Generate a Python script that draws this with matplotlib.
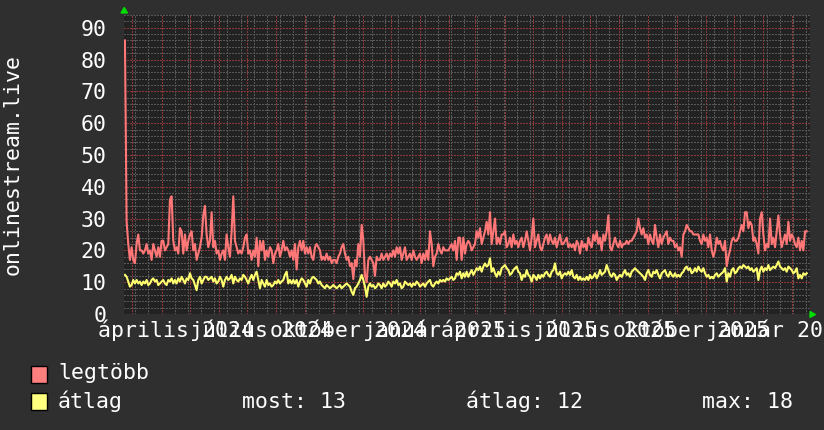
import pandas as pd
import matplotlib
matplotlib.use("Agg")
import matplotlib.pyplot as plt
import matplotlib.dates as mdates
from matplotlib.patches import Rectangle, Polygon

plt.rcParams['font.family'] = ['DejaVu Sans Mono']

# legtöbb (max listeners)
legtobb_first_year = [
    86, 29, 22, 17, 21, 17, 16, 22, 25, 20,
    20, 19, 20, 22, 19, 20, 17, 22, 20, 18,
    21, 18, 23, 23, 20, 21, 22, 36, 37, 23,
    20, 21, 19, 27, 26, 19, 25, 20, 23, 25,
    26, 20, 22, 17, 19, 21, 24, 31, 34, 25,
    21, 23, 32, 21, 23, 19, 20, 17, 19, 20,
    17, 25, 21, 18, 26, 37, 23, 21, 19, 20,
    19, 21, 24, 25, 19, 20, 17, 20, 18, 24,
    15, 23, 20, 23, 17, 20, 18, 21, 20, 16,
    19, 20, 22, 18, 20, 23, 20, 21, 20, 18,
    20, 17, 22, 14, 21, 23, 20, 23, 19, 21,
    19, 21, 18, 17, 21, 22, 21, 20, 17, 18,
    17, 19, 17, 18, 16, 17, 17, 16, 18, 19,
    21, 22, 19, 17, 18, 15, 16, 11, 17, 15,
    22, 18, 28, 23, 12, 10, 17, 18, 17, 16,
    12, 18, 17, 17, 19, 17, 18, 19, 17, 19,
    18, 20, 18, 21, 19, 21, 17, 19, 21, 17,
    18, 19, 17, 20, 18, 17, 18, 19, 16, 19,
    17, 20, 17, 26, 22, 15, 18, 19, 22, 20,
    19, 21, 20, 20, 20, 21, 22, 20, 23, 17,
    24, 24, 17, 24, 19, 22, 23,
]
legtobb_second_year = [
    22, 20, 21, 22, 26, 24, 27, 22, 24, 26,
    29, 25, 32, 22, 26, 30, 22, 24, 22, 25,
    25, 26, 21, 22, 24, 21, 25, 22, 23, 21,
    23, 24, 21, 23, 26, 23, 20, 24, 30, 21,
    23, 25, 21, 20, 22, 24, 25, 22, 25, 23,
    22, 24, 21, 23, 25, 22, 22, 23, 24, 21,
    22, 21, 22, 20, 23, 22, 19, 23, 21, 22,
    20, 24, 22, 21, 25, 23, 26, 22, 24, 20,
    25, 23, 26, 31, 21, 20, 22, 24, 22, 21,
    23, 21, 22, 22, 23, 22, 23, 23, 24, 25,
    26, 30, 27, 25, 27, 24, 25, 22, 25, 23,
    22, 28, 24, 21, 25, 22, 24, 25, 26, 22,
    24, 23, 23, 21, 22, 20, 21, 18, 25, 26,
    28, 27, 26, 26, 25, 25, 25, 25, 23, 22,
    25, 23, 24, 21, 25, 20, 18, 20, 24, 22,
    23, 21, 20, 23, 15, 18, 20, 23, 24, 23,
    23, 24, 26, 28, 26, 32, 32, 27, 29, 28,
    23, 24, 22, 19, 30, 32, 25, 20, 22, 21,
    30, 22, 24, 21, 26, 31, 25, 21, 23, 25,
    22, 29, 23, 25, 24, 22, 21, 24, 20, 23,
    20, 26, 26,
]

# átlag (average listeners)
atlag_first_year = [
    12.3, 11.7, 10.2, 8.6, 9.1, 10.7, 9.6, 10.7, 9.6, 10.2,
    9.1, 10.2, 9.6, 10.7, 9.1, 9.6, 10.7, 11.2, 10.2, 10.7,
    9.1, 9.6, 10.2, 10.7, 9.6, 9.1, 10.7, 10.2, 11.2, 9.6,
    10.7, 9.6, 11.2, 10.2, 11.7, 10.7, 9.6, 11.2, 10.7, 12.8,
    11.2, 10.7, 9.1, 7.5, 10.7, 11.7, 9.6, 10.7, 11.7, 11.7,
    10.7, 11.2, 11.7, 10.2, 11.2, 9.6, 10.2, 11.7, 10.7, 8.6,
    10.7, 11.7, 10.7, 11.2, 12.3, 9.6, 11.7, 10.7, 10.2, 11.2,
    10.7, 12.3, 11.7, 10.7, 9.6, 11.2, 12.3, 10.7, 12.3, 13.3,
    10.7, 8.1, 10.7, 9.6, 8.6, 10.7, 9.1, 9.6, 8.6, 9.1,
    10.2, 9.6, 10.7, 9.6, 10.2, 10.7, 12.3, 13.3, 9.6, 10.7,
    9.6, 10.7, 9.6, 10.7, 8.6, 10.2, 11.2, 10.7, 9.6, 8.6,
    10.7, 9.6, 11.2, 11.7, 11.2, 10.7, 9.6, 10.2, 9.1, 8.6,
    8.1, 9.1, 8.6, 8.1, 8.6, 9.1, 8.6, 8.1, 8.6, 9.1,
    8.1, 8.6, 9.1, 9.6, 9.1, 8.6, 7.0, 6.0, 8.1, 8.6,
    9.6, 10.7, 12.3, 10.7, 8.6, 5.4, 8.6, 9.6, 8.6, 9.1,
    8.1, 8.6, 9.6, 9.1, 8.1, 9.6, 8.6, 9.1, 10.2, 9.6,
    8.6, 10.2, 9.6, 10.7, 9.1, 9.6, 8.1, 8.6, 10.2, 9.6,
    9.1, 9.6, 8.6, 9.6, 9.1, 10.2, 9.6, 8.6, 9.1, 9.6,
    8.6, 9.6, 10.2, 10.7, 9.1, 8.6, 9.6, 10.2, 9.6, 10.7,
    10.2, 10.7, 10.2, 11.2, 10.7, 11.2, 11.7, 10.7, 11.2, 12.8,
    12.3, 13.3, 11.2, 12.8, 11.7, 13.3, 11.7,
]
atlag_second_year = [
    12.8, 13.8, 12.3, 13.3, 14.4, 13.8, 14.9, 13.3, 14.9, 15.9,
    14.9, 15.4, 17.5, 13.3, 14.4, 12.8, 11.7, 13.3, 12.3, 14.4,
    14.9, 15.4, 14.4, 13.8, 12.3, 12.8, 13.8, 14.4, 14.9, 13.3,
    12.8, 10.7, 12.3, 11.7, 13.8, 12.3, 11.7, 10.2, 12.3, 11.7,
    10.7, 12.3, 11.2, 12.3, 11.7, 12.8, 13.3, 12.3, 11.7, 13.3,
    13.8, 15.9, 12.8, 12.3, 13.3, 11.2, 12.3, 12.8, 12.3, 13.3,
    12.3, 13.8, 11.7, 11.2, 12.3, 10.7, 11.7, 10.7, 11.2, 10.7,
    11.7, 10.7, 12.3, 11.2, 11.7, 12.8, 11.2, 12.3, 13.8, 12.3,
    12.8, 13.3, 15.4, 13.8, 12.3, 11.7, 12.8, 12.3, 10.7, 11.7,
    12.3, 11.7, 12.8, 13.8, 12.3, 12.8, 11.7, 13.3, 13.8, 14.4,
    13.8, 13.3, 12.8, 12.3, 11.7, 10.7, 12.8, 13.8, 12.3, 11.7,
    13.3, 12.8, 13.8, 12.3, 11.2, 12.8, 13.3, 13.8, 12.3, 11.7,
    13.3, 12.3, 11.7, 12.8, 11.7, 12.3, 11.7, 12.8, 13.3, 14.4,
    14.9, 13.8, 14.4, 12.8, 13.3, 14.4, 13.3, 14.9, 13.8, 13.3,
    14.4, 12.8, 11.7, 12.3, 11.2, 11.7, 11.2, 12.3, 12.8, 11.7,
    12.3, 12.8, 13.3, 14.4, 10.2, 12.8, 11.7, 13.8, 14.4, 12.8,
    13.3, 14.4, 14.9, 14.4, 15.4, 14.9, 14.4, 14.9, 13.8, 14.4,
    13.3, 13.8, 14.4, 10.7, 13.8, 14.9, 13.3, 14.4, 13.8, 15.4,
    13.8, 14.4, 14.9, 14.4, 15.4, 16.5, 14.9, 14.4, 13.8, 14.4,
    13.3, 14.9, 14.4, 13.8, 12.8, 13.3, 14.4, 11.2, 12.3, 11.2,
    12.8, 12.3, 12.8,
]

first_sample = pd.Timestamp("2024-02-22")
last_sample = pd.Timestamp("2026-02-16 12:00")
view_start = pd.Timestamp("2024-02-21")
view_end = pd.Timestamp("2026-02-20")

label_texts = ["április 2024", "július 2024", "október 2024", "január 2025",
               "április 2025", "július 2025", "október 2025", "január 2026"]
label_months = ["2024-04-01", "2024-07-01", "2024-10-01", "2025-01-01",
                "2025-04-01", "2025-07-01", "2025-10-01", "2026-01-01"]

legend_stats = [("most:", 13), ("átlag:", 12), ("max:", 18)]

RED = "#ff7777"
YELLOW = "#ffff70"
BG = "#2f2f2f"
CANVAS = "#222222"
FS = 15.5
W, H = 824, 430

legtobb = legtobb_first_year + legtobb_second_year
atlag = atlag_first_year + atlag_second_year
times = pd.date_range(first_sample, last_sample, periods=len(legtobb))

fig = plt.figure(figsize=(W / 100, H / 100), dpi=100, facecolor=BG)
ax = fig.add_axes([124 / W, (H - 314) / H, (810 - 124) / W, (314 - 15) / H])
ax.set_facecolor(CANVAS)

ax.plot(times, legtobb, color=RED, lw=1.5, zorder=3)
ax.plot(times, atlag, color=YELLOW, lw=1.5, zorder=4)

ax.set_xlim(view_start, view_end)
ax.set_ylim(0, 94)

# grid: months / two weeks, tens / twos
ax.xaxis.set_major_locator(mdates.MonthLocator())
minor_days = pd.date_range("2024-03-04", view_end, freq="14D")
ax.set_xticks(mdates.date2num(minor_days), minor=True)
ax.set_yticks(range(0, 91, 10))
ax.set_yticks(range(0, 95, 2), minor=True)
ax.set_axisbelow(True)
ax.grid(which="minor", color="#575757", lw=1.0, ls=(0, (1, 1)),
        antialiased=False)
ax.grid(which="major", color="#8c3838", lw=1.0, ls=(0, (1, 1)),
        antialiased=False)

ax.tick_params(axis="x", which="both", length=0, labelbottom=False)
ax.tick_params(axis="y", which="both", length=0, pad=12.5,
               labelcolor="white", labelsize=FS)
for s in ax.spines.values():
    s.set_visible(False)

for txt, m in zip(label_texts, label_months):
    d = pd.Timestamp(m) + pd.Timedelta(days=15)
    ax.text(d, -23 / 299, txt, transform=ax.get_xaxis_transform(),
            ha="center", va="baseline", color="white", fontsize=FS,
            clip_on=False)

fig.text(13 / W, 0.5 * ((H - 314) / H + (H - 15) / H), "onlinestream.live",
         rotation=90, ha="center", va="center", color="white", fontsize=FS)

# arrows at the axis ends
fig.add_artist(Polygon([(121 / W, (H - 13) / H), (127.5 / W, (H - 13) / H),
                        (124.25 / W, (H - 7.5) / H)], closed=True,
                       transform=fig.transFigure, color="#00dd00"))
fig.add_artist(Polygon([(810 / W, (H - 311.5) / H), (810 / W, (H - 317.5) / H),
                        (815.5 / W, (H - 314.5) / H)], closed=True,
                       transform=fig.transFigure, color="#00dd00"))

# legend
fig.add_artist(Rectangle((31 / W, (H - 383) / H), 16 / W, 17 / H,
                         transform=fig.transFigure, facecolor="#ff7f7f",
                         edgecolor="black", lw=1))
fig.add_artist(Rectangle((31 / W, (H - 410) / H), 16 / W, 17 / H,
                         transform=fig.transFigure, facecolor="#ffff80",
                         edgecolor="black", lw=1))
fig.text(58 / W, (H - 379) / H, "legtöbb", color="white", fontsize=FS,
         va="baseline")
fig.text(58 / W, (H - 408) / H, "átlag", color="white", fontsize=FS,
         va="baseline")
for (name, val), xpos in zip(legend_stats, [242, 466, 702]):
    fig.text(xpos / W, (H - 408) / H, f"{name} {val}", color="white",
             fontsize=FS, va="baseline")

fig.savefig("out.png", dpi=100, facecolor=BG)
